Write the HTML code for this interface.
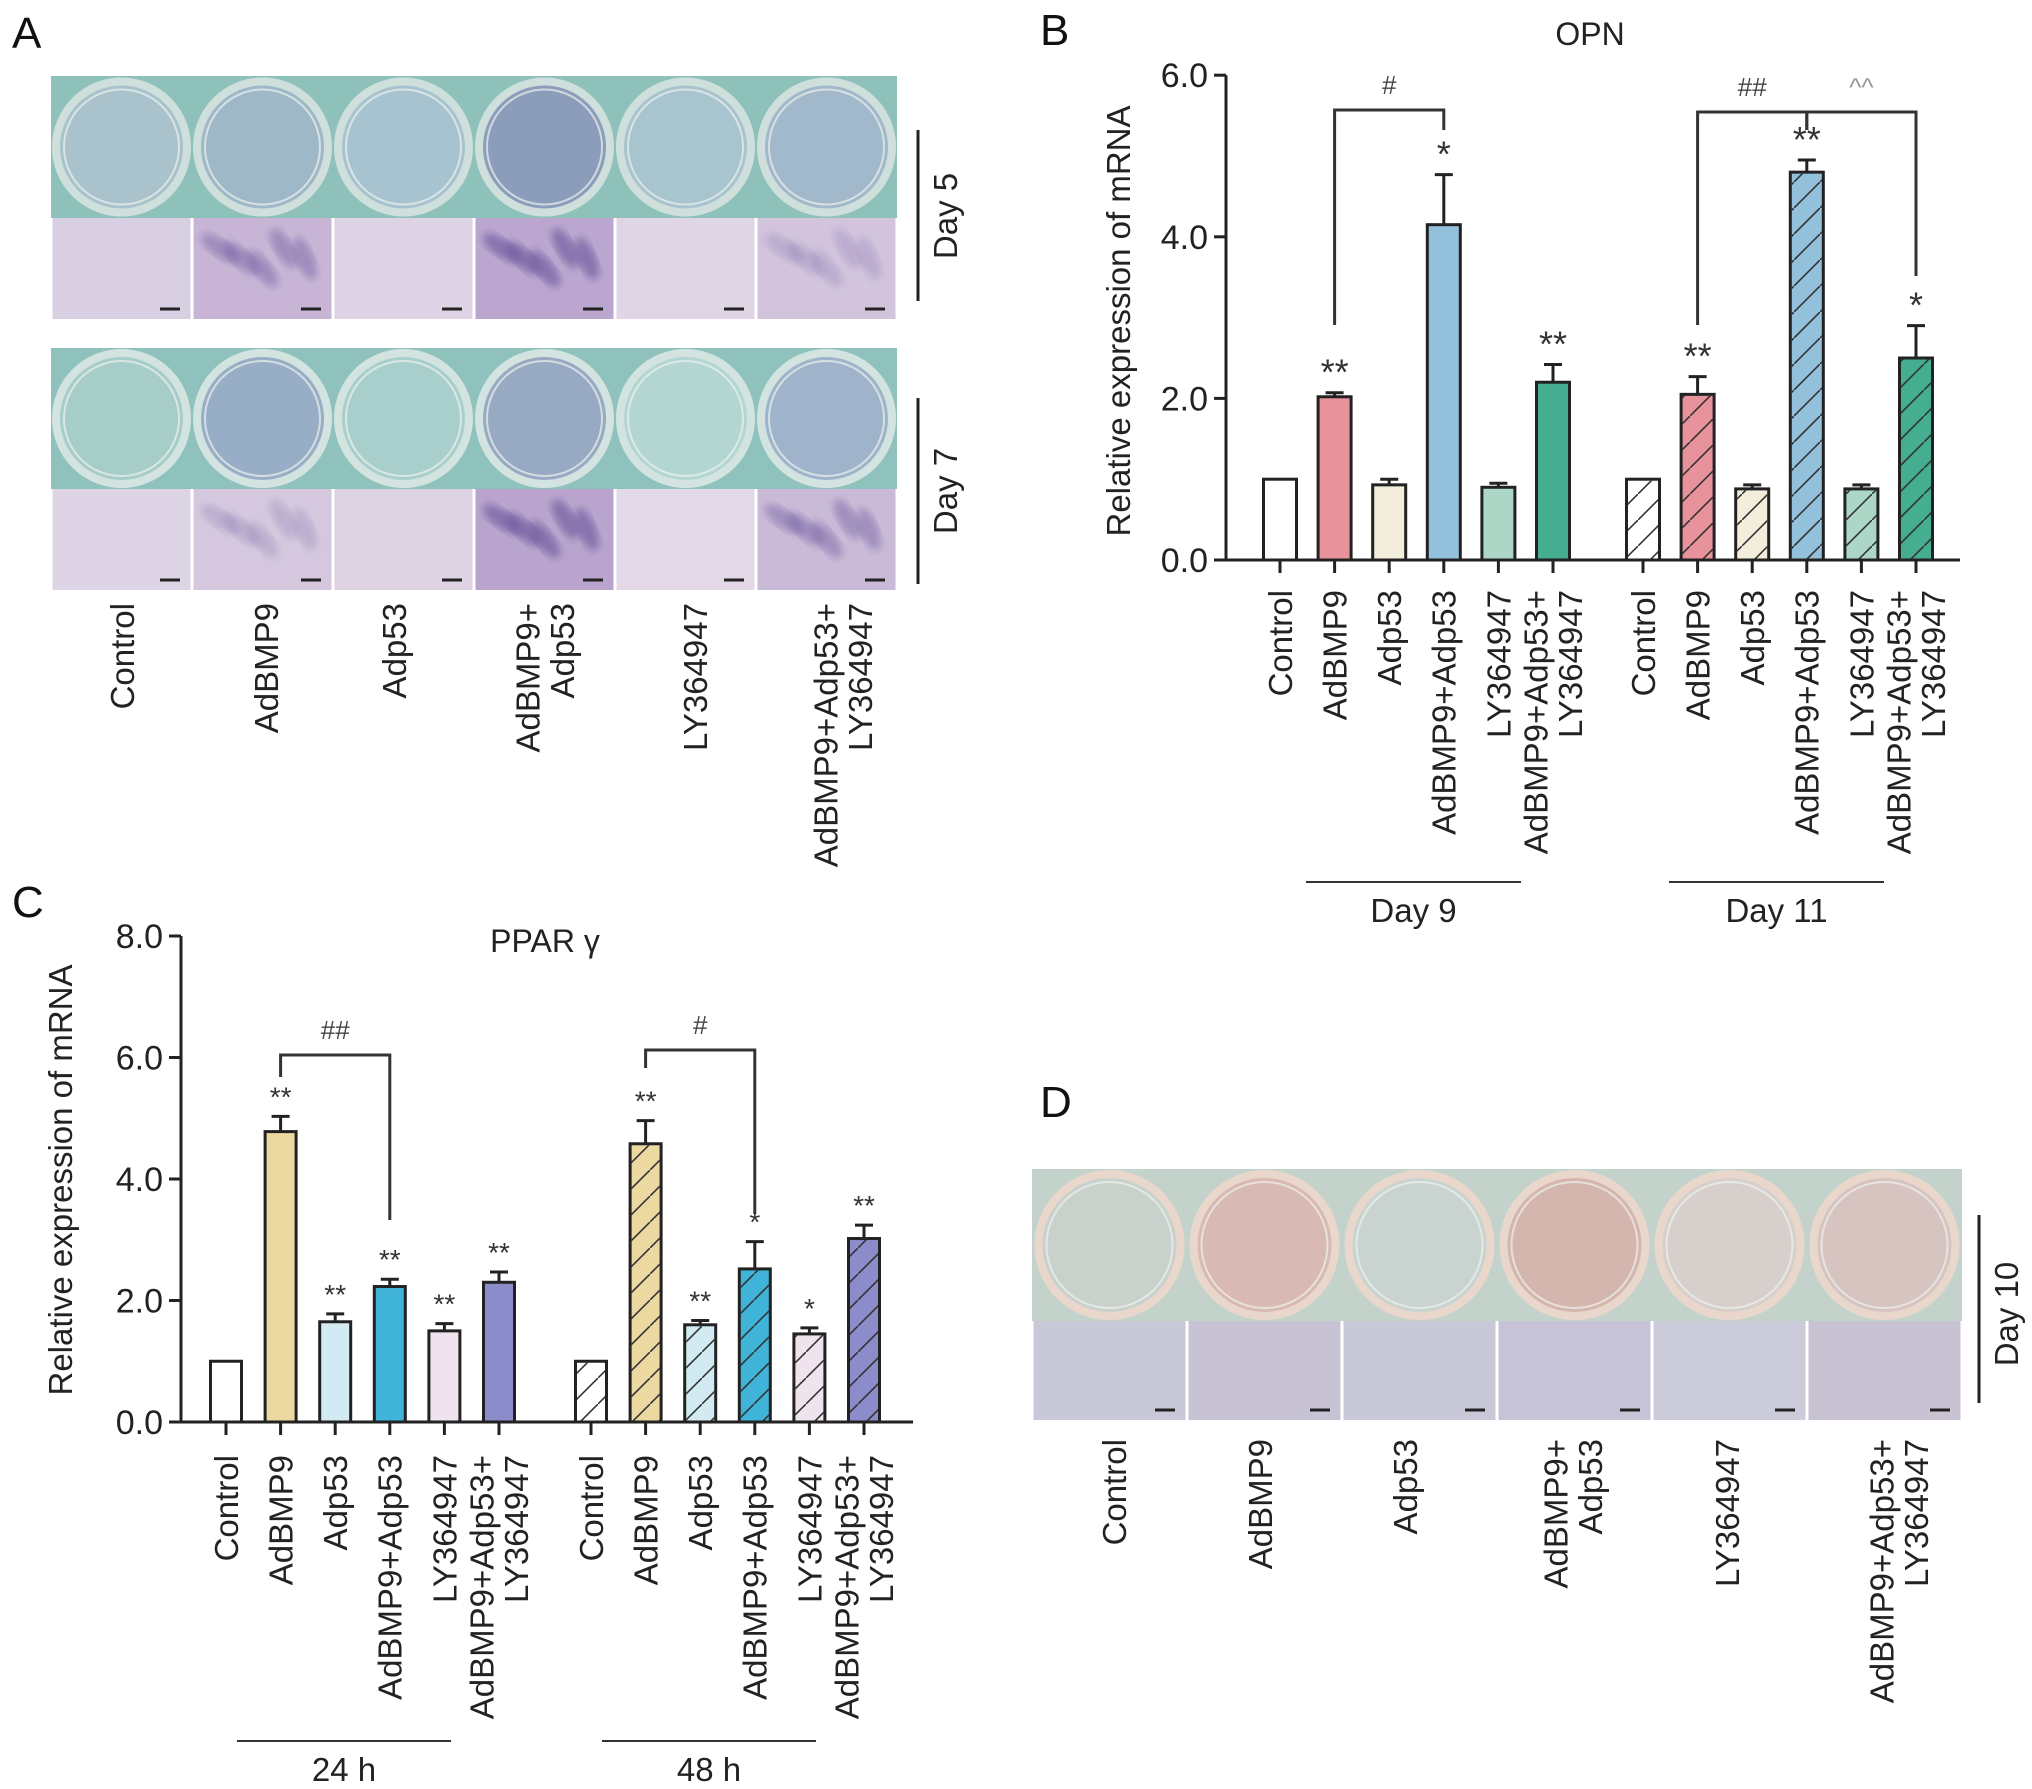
<!DOCTYPE html>
<html><head><meta charset="utf-8">
<style>
html,body{margin:0;padding:0;background:#fff;}
svg{display:block;font-family:"Liberation Sans",Arial,sans-serif;}
</style></head>
<body>
<svg id="fig" width="2032" height="1789" viewBox="0 0 2032 1789" xmlns="http://www.w3.org/2000/svg">
<defs>
<pattern id="hatch" patternUnits="userSpaceOnUse" width="26" height="26">
<path d="M-2,28 L28,-2" stroke="#333" stroke-width="1.6"/>
</pattern>
<filter id="blur4"><feGaussianBlur stdDeviation="4"/></filter>
</defs>
<g id="panelA"></g>
<g id="panelB"></g>
<g id="panelC"></g>
<g id="panelD"></g>
</svg>
<script>
// ---------- Panel B data (OPN) ----------
const catsB = ["Control","AdBMP9","Adp53","AdBMP9+Adp53","LY364947","AdBMP9+Adp53+|LY364947"];
const day9Values = [1.0, 2.02, 0.93, 4.15, 0.90, 2.20];
const day9Errors = [0.0, 0.05, 0.07, 0.62, 0.05, 0.22];
const day11Values = [1.0, 2.05, 0.88, 4.80, 0.88, 2.50];
const day11Errors = [0.0, 0.22, 0.05, 0.15, 0.05, 0.40];
const day9Stars = ["", "**", "", "*", "", "**"];
const day11Stars = ["", "**", "", "**", "", "*"];
const colorsB = ["#ffffff","#e8929c","#f3eedb","#93c0db","#acd6c6","#45ae90"];
const ticksB = [0, 2, 4, 6];
const tickLabelsB = ["0.0","2.0","4.0","6.0"];
const groupsB = ["Day 9","Day 11"];

// ---------- Panel C data (PPAR gamma) ----------
const catsC = ["Control","AdBMP9","Adp53","AdBMP9+Adp53","LY364947","AdBMP9+Adp53+|LY364947"];
const h24Values = [1.0, 4.78, 1.65, 2.23, 1.50, 2.30];
const h24Errors = [0.0, 0.25, 0.13, 0.12, 0.12, 0.17];
const h48Values = [1.0, 4.58, 1.60, 2.52, 1.45, 3.02];
const h48Errors = [0.0, 0.38, 0.07, 0.45, 0.10, 0.22];
const h24Stars = ["", "**", "**", "**", "**", "**"];
const h48Stars = ["", "**", "**", "*", "*", "**"];
const colorsC = ["#ffffff","#ecd9a2","#d2eaf2","#3fb4d8","#efe3ee","#8b8cc9"];
const ticksC = [0, 2, 4, 6, 8];
const tickLabelsC = ["0.0","2.0","4.0","6.0","8.0"];
const groupsC = ["24 h","48 h"];

const NS = "http://www.w3.org/2000/svg";
function mk(parent, tag, attrs, text){
  const e = document.createElementNS(NS, tag);
  for (const k in attrs) e.setAttribute(k, attrs[k]);
  if (text !== undefined) e.textContent = text;
  parent.appendChild(e);
  return e;
}
function rotLabel(parent, x, topY, label, size, name){
  const lines = label.split("|");
  const g = mk(parent, "g", {});
  
  
  const cap = size * 0.36;
  const lh = size * 1.05;
  lines.forEach((ln, i) => {
    const off = (i - (lines.length - 1) / 2) * lh;
    const bx = x + cap + off;
    const t = mk(g, "text", {x: bx, y: topY, "font-size": size, fill: "#222",
      "text-anchor": "end", transform: `rotate(-90 ${bx} ${topY})`}, ln);
    
    
  });
  return g;
}

function drawChart(opt){
  const P = document.getElementById(opt.id);
  const yS = v => opt.y0 - v * opt.unit;
  const xS = (g, i) => opt.x0 + i * opt.step + g * opt.gstep;
  const yax = mk(P, "line", {x1: opt.axX, y1: yS(opt.ymax), x2: opt.axX, y2: yS(0)+1.5, stroke:"#222","stroke-width":3});
  
  
  const xax = mk(P, "line", {x1: opt.axX - 12, y1: yS(0), x2: opt.axRight, y2: yS(0), stroke:"#222","stroke-width":3});
  
  
  opt.ticks.forEach((v, k) => {
    const tl = mk(P, "line", {x1: opt.axX - 12, y1: yS(v), x2: opt.axX, y2: yS(v), stroke:"#222","stroke-width":3});
    
    
    const tt = mk(P, "text", {x: opt.axX - 18, y: yS(v) + 12, "font-size": 34, fill:"#222", "text-anchor":"end"}, opt.tickLabels[k]);
    
    
  });
  const yt = mk(P, "text", {x: opt.ytX, y: opt.ytY, "font-size": 33, fill:"#222", "text-anchor":"middle",
    transform:`rotate(-90 ${opt.ytX} ${opt.ytY})`}, "Relative expression of mRNA");
  
  
  const ti = mk(P, "text", {x: opt.titleX, y: opt.titleY, "font-size": 32, fill:"#222", "text-anchor":"middle"}, opt.title);
  
  
  const bw = opt.bw;
  [0,1].forEach(g => {
    const vals = opt.values[g], errs = opt.errors[g], stars = opt.stars[g];
    vals.forEach((v, i) => {
      const cx = xS(g, i);
      if (errs[i] > 0){
        const el = mk(P, "line", {x1: cx, y1: yS(v), x2: cx, y2: yS(v + errs[i]), stroke:"#222","stroke-width":3});
        
        
        const ec = mk(P, "line", {x1: cx - 9, y1: yS(v + errs[i]), x2: cx + 9, y2: yS(v + errs[i]), stroke:"#222","stroke-width":3});
        
        
      }
      const r = mk(P, "rect", {x: cx - bw/2, y: yS(v), width: bw, height: yS(0) - yS(v), fill: opt.colors[i], stroke:"#222", "stroke-width":3});
      
      
      if (g === 1){
        const h = mk(P, "rect", {x: cx - bw/2 + 1.5, y: yS(v) + 1.5, width: bw - 3, height: Math.max(0, yS(0) - yS(v) - 3), fill:"url(#hatch)"});
        
        
      }
      const xt = mk(P, "line", {x1: cx, y1: yS(0), x2: cx, y2: yS(0) + 13, stroke:"#222","stroke-width":3});
      
      
      if (stars[i]){
        const st = mk(P, "text", {x: cx, y: yS(v + errs[i]) - opt.starGap, "font-size": opt.starSize, fill:"#333", "text-anchor":"middle"}, stars[i]);
        
        
      }
      rotLabel(P, cx, opt.labelTop, opt.cats[i], 33, 'x-category-label');
    });
    const gl = mk(P, "line", {x1: xS(g,0) + opt.glOff[0], y1: opt.glY, x2: xS(g,5) + opt.glOff[1], y2: opt.glY, stroke:"#333","stroke-width":2});
    
    
    const gt = mk(P, "text", {x: (xS(g,0) + opt.glOff[0] + xS(g,5) + opt.glOff[1]) / 2, y: opt.glY + 40, "font-size": 33, fill:"#222", "text-anchor":"middle"}, opt.groups[g]);
    
    
  });
  opt.brackets.forEach(b => {
    const xa = xS(b.g, b.a), xb = xS(b.g, b.b);
    const p = mk(P, "path", {d:`M${xa},${b.ya} L${xa},${b.top} L${xb},${b.top} L${xb},${b.yb}`, fill:"none", stroke:"#333", "stroke-width":3});
    
    
    const t = mk(P, "text", {x:(xa+xb)/2, y:b.top - 16, "font-size":26, fill:b.color||"#444", "text-anchor":"middle"}, b.label);
    
    
  });
}

drawChart({id:"panelB", y0:560, unit:80.8, ymax:6, x0:1280, step:54.6, gstep:363, bw:33,
  axX:1226, axRight:1960, ticks:ticksB, tickLabels:tickLabelsB, ytX:1130, ytY:321,
  titleX:1590, titleY:45, title:"OPN", values:[day9Values, day11Values], errors:[day9Errors, day11Errors],
  stars:[day9Stars, day11Stars], starSize:36, starGap:8, colors:colorsB, cats:catsB, labelTop:590,
  glY:882, glOff:[26,-32], groups:groupsB,
  brackets:[{g:0,a:1,b:3,top:110,ya:325,yb:130,label:"#"},
            {g:1,a:1,b:3,top:112,ya:325,yb:130,label:"##"},
            {g:1,a:3,b:5,top:112,ya:130,yb:276,label:"^^",color:"#999"}]});

drawChart({id:"panelC", y0:1422, unit:60.75, ymax:8, x0:226, step:54.6, gstep:365, bw:31,
  axX:181, axRight:913, ticks:ticksC, tickLabels:tickLabelsC, ytX:72, ytY:1180,
  titleX:545, titleY:952, title:"PPAR γ", values:[h24Values, h48Values], errors:[h24Errors, h48Errors],
  stars:[h24Stars, h48Stars], starSize:28, starGap:10, colors:colorsC, cats:catsC, labelTop:1455,
  glY:1741, glOff:[11,-48], groups:groupsC,
  brackets:[{g:0,a:1,b:3,top:1055,ya:1077,yb:1220,label:"##"},
            {g:1,a:1,b:3,top:1050,ya:1068,yb:1214,label:"#"}]});

[["A",12,48],["B",1040,45],["C",12,917],["D",1040,1117]].forEach(l => {
  const t = mk(document.getElementById("fig"), "text", {x:l[1], y:l[2], "font-size":44, fill:"#111"}, l[0]);
  
  
});

function photoPanel(P, o){
  const pl = mk(P, "rect", {x:o.x0, y:o.py0, width:o.x1-o.x0, height:o.py1-o.py0, fill:o.plate});
  
  
  const w = (o.x1 - o.x0) / 6;
  for (let i = 0; i < 6; i++){
    const cx = o.x0 + w*(i+0.5), cy = (o.py0 + o.py1)/2, r = Math.min(w, o.py1-o.py0)/2 - 5;
    const c1 = mk(P, "circle", {cx, cy, r, fill:o.wellFill[i], stroke:o.ring, "stroke-width":8});
    
    
    mk(P, "circle", {cx, cy, r:r-8, fill:"none", stroke:"#eef2ee", "stroke-width":2, opacity:0.7});
    const m = mk(P, "rect", {x:o.x0 + w*i + 1.5, y:o.py1, width:w-3, height:o.my1-o.py1, fill:o.micro[i]});
    
    
    if (o.stain[i] > 0){
      for (let k = 0; k < 5; k++){
        const ex = o.x0 + w*i + w*(0.2 + 0.15*k), ey = o.py1 + (o.my1-o.py1)*(0.3 + 0.1*(k%3));
        mk(P, "ellipse", {cx: ex, cy: ey, rx: w*0.16, ry: 9, fill:"#6e5a9e", opacity:0.22*o.stain[i], filter:"url(#blur4)",
          transform:`rotate(${35 + k*8} ${ex} ${ey})`});
      }
    }
    const sb = mk(P, "line", {x1:o.x0 + w*(i+1) - 32, y1:o.my1 - 10, x2:o.x0 + w*(i+1) - 12, y2:o.my1 - 10, stroke:"#222", "stroke-width":3});
    
    
  }
}
const PA = document.getElementById("panelA");
photoPanel(PA, {x0:51, x1:897, py0:76, py1:218, my1:319, plate:"#8fc1bb", ring:"#cfe0dc",
  wellFill:["#a9c2cc","#9fb8c8","#a7c3d0","#8c9dbc","#a8c4cf","#a2b8cb"],
  micro:["#d8cfe2","#c8b5d6","#ddd3e4","#bba6cf","#e0d5e5","#d2c4dd"], stain:[0,2,0,3,0,1]});
photoPanel(PA, {x0:51, x1:897, py0:348, py1:489, my1:590, plate:"#8fc2bc", ring:"#d3e4e0",
  wellFill:["#a7cdc9","#98aec6","#a9cfcc","#98a9c3","#b3d6d3","#9fb4cb"],
  micro:["#ddd5e5","#d5c8de","#ddd3e3","#b9a4cd","#e2d8e7","#c9bad7"], stain:[0,1,0,3,0,2]});
[[130,301,"Day 5",216],[398,584,"Day 7",491]].forEach(d => {
  const l = mk(PA, "line", {x1:918, y1:d[0], x2:918, y2:d[1], stroke:"#222","stroke-width":3});
  
  
  const t = mk(PA, "text", {x:957, y:d[3], "font-size":33, fill:"#222", "text-anchor":"middle", transform:`rotate(-90 957 ${d[3]})`}, d[2]);
  
  
});
const labelsA = ["Control","AdBMP9","Adp53","AdBMP9+|Adp53","LY364947","AdBMP9+Adp53+|LY364947"];
const xsA = [122,266,394,545,695,843];
labelsA.forEach((l,i) => rotLabel(PA, xsA[i], 603, l, 33, 'group-label-a'));

const PD = document.getElementById("panelD");
photoPanel(PD, {x0:1032, x1:1962, py0:1169, py1:1321, my1:1420, plate:"#c3d3cb", ring:"#ead7cc",
  wellFill:["#c9d1cd","#d9b9b3","#c9d3cf","#d4b6ae","#d6cfcc","#d7c4c0"],
  micro:["#c9c8d8","#c7c2d4","#c9c8d8","#c6c4d6","#cccbda","#c8c2d3"], stain:[0,0,0,0,0,0]});
const ld = mk(PD, "line", {x1:1979, y1:1215, x2:1979, y2:1403, stroke:"#222","stroke-width":3});


const td = mk(PD, "text", {x:2018, y:1314, "font-size":33, fill:"#222", "text-anchor":"middle", transform:"rotate(-90 2018 1314)"}, "Day 10");


const xsD = [1114,1260,1405,1573,1727,1899];
labelsA.forEach((l,i) => rotLabel(PD, xsD[i], 1439, l, 33, 'group-label-d'));
</script>
</body></html>
